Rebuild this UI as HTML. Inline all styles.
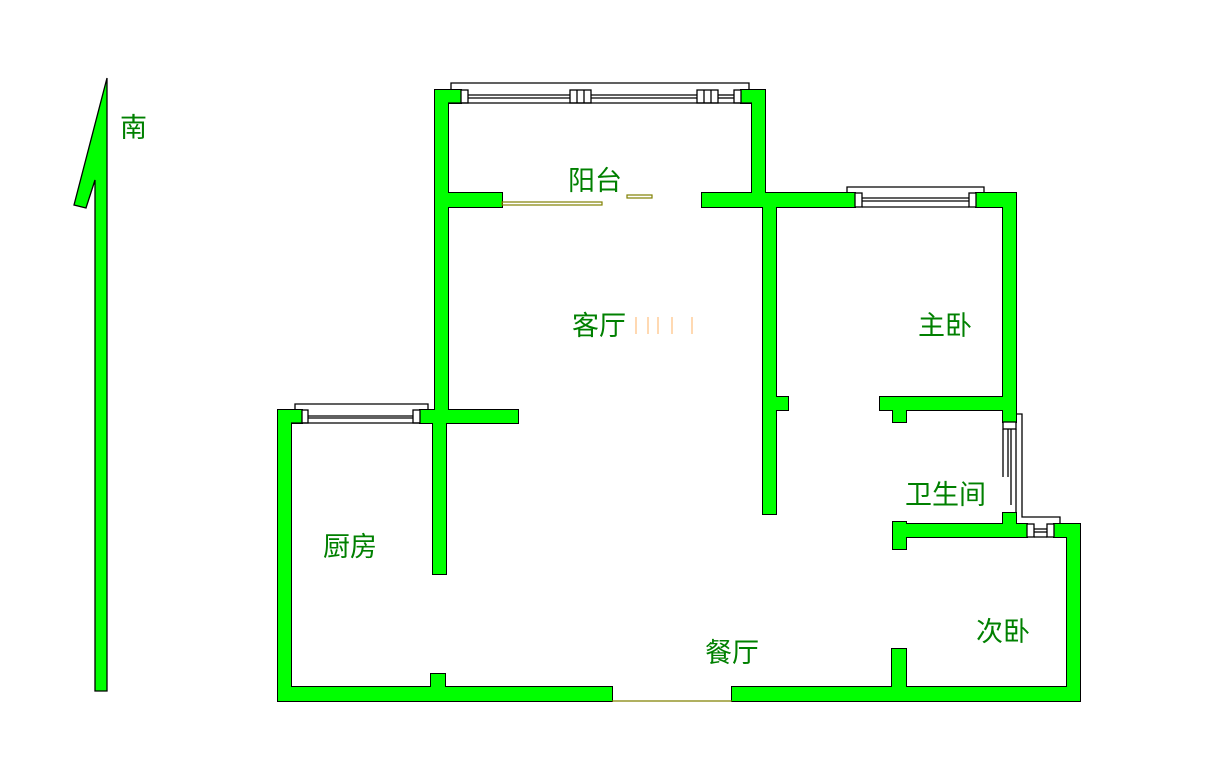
<!DOCTYPE html>
<html><head><meta charset="utf-8"><style>
body{margin:0;background:#fff;width:1208px;height:783px;overflow:hidden}
svg{display:block}
text{font-family:"Liberation Sans","Noto Sans CJK SC",sans-serif;font-size:27px;fill:#008000}
</style></head><body>
<svg width="1208" height="783" viewBox="0 0 1208 783">
<defs>
<g id="walls">
<rect x="435" y="90" width="13" height="320"/>
<rect x="433" y="410" width="13" height="164"/>
<rect x="435" y="90" width="26" height="13"/>
<rect x="741" y="90" width="24" height="13"/>
<rect x="752" y="90" width="13" height="117"/>
<rect x="448" y="193" width="54" height="14"/>
<rect x="702" y="193" width="153" height="14"/>
<rect x="763" y="193" width="13" height="321"/>
<rect x="776" y="397" width="12" height="13"/>
<rect x="976" y="193" width="40" height="14"/>
<rect x="1003" y="193" width="13" height="229"/>
<rect x="880" y="397" width="136" height="13"/>
<rect x="893" y="397" width="13" height="25"/>
<rect x="893" y="524" width="134" height="13"/>
<rect x="893" y="522" width="13" height="27"/>
<rect x="1003" y="513" width="13" height="24"/>
<rect x="1054" y="524" width="26" height="13"/>
<rect x="1067" y="524" width="13" height="177"/>
<rect x="278" y="410" width="13" height="291"/>
<rect x="278" y="410" width="24" height="13"/>
<rect x="420" y="410" width="98" height="13"/>
<rect x="278" y="687" width="334" height="14"/>
<rect x="732" y="687" width="348" height="14"/>
<rect x="431" y="674" width="14" height="20"/>
<rect x="892" y="649" width="14" height="45"/>
</g>
</defs>
<g fill="#000" stroke="#000" stroke-width="2"><use href="#walls"/></g>
<g fill="#00ff00"><use href="#walls"/></g>

<g fill="none" stroke="#000" stroke-width="1.3">
<path d="M451 90 V83 H749 V90"/>
<rect x="461" y="90" width="7" height="13" fill="#fff"/>
<rect x="570" y="90" width="21" height="13" fill="#fff"/>
<line x1="577" y1="90" x2="577" y2="103"/><line x1="584" y1="90" x2="584" y2="103"/>
<rect x="697" y="90" width="21" height="13" fill="#fff"/>
<line x1="704" y1="90" x2="704" y2="103"/><line x1="711" y1="90" x2="711" y2="103"/>
<rect x="734" y="90" width="7" height="13" fill="#fff"/>
<line x1="468" y1="95" x2="570" y2="95"/><line x1="468" y1="98" x2="570" y2="98"/><line x1="448" y1="103" x2="752" y2="103"/>
<line x1="591" y1="95" x2="697" y2="95"/><line x1="591" y1="98" x2="697" y2="98"/>
<line x1="718" y1="95" x2="734" y2="95"/><line x1="718" y1="98" x2="734" y2="98"/>
<path d="M847 193 V187 H984 V193"/>
<rect x="855" y="193" width="7" height="14" fill="#fff"/>
<rect x="969" y="193" width="7" height="14" fill="#fff"/>
<line x1="862" y1="198" x2="969" y2="198"/><line x1="862" y1="201" x2="969" y2="201"/><line x1="862" y1="207" x2="969" y2="207"/>
<path d="M295 410 V404 H428 V410"/>
<rect x="302" y="410" width="6" height="13" fill="#fff"/>
<rect x="413" y="410" width="7" height="13" fill="#fff"/>
<line x1="308" y1="416" x2="413" y2="416"/><line x1="308" y1="418" x2="413" y2="418"/><line x1="291" y1="423" x2="420" y2="423"/>
<path d="M1016 414 H1022 V517 H1060 V524"/>
<rect x="1003" y="422" width="13" height="7" fill="#fff"/>
<line x1="1003" y1="429" x2="1003" y2="477"/><line x1="1008" y1="429" x2="1008" y2="477"/><line x1="1016" y1="429" x2="1016" y2="513"/>
<line x1="1011" y1="429" x2="1011" y2="505"/>
<rect x="1027" y="524" width="7" height="13" fill="#fff"/>
<rect x="1047" y="524" width="7" height="13" fill="#fff"/>
<line x1="1034" y1="529" x2="1047" y2="529"/><line x1="1034" y1="532" x2="1047" y2="532"/><line x1="1034" y1="537" x2="1047" y2="537"/>
</g>
<g fill="none" stroke="#808000" stroke-width="1.2">
<rect x="502" y="202" width="100" height="3"/>
<rect x="627" y="195" width="25" height="3"/>
<line x1="612" y1="701" x2="732" y2="701"/>
</g>
<g stroke="#ffcc99" stroke-width="1.5">
<line x1="636" y1="317" x2="636" y2="334"/><line x1="648" y1="317" x2="648" y2="334"/><line x1="658" y1="317" x2="658" y2="334"/><line x1="672" y1="317" x2="672" y2="334"/><line x1="692" y1="317" x2="692" y2="334"/>
</g>
<polygon points="107,78 107,691 95,691 95,180 86,208 74,205" fill="#00ff00" stroke="#000" stroke-width="1.3"/>
<text x="120" y="137">南</text>
<text x="568" y="190">阳台</text>
<text x="572" y="335">客厅</text>
<text x="918" y="335">主卧</text>
<text x="905" y="504">卫生间</text>
<text x="323" y="556">厨房</text>
<text x="705" y="662">餐厅</text>
<text x="976" y="641">次卧</text>
</svg>
</body></html>
